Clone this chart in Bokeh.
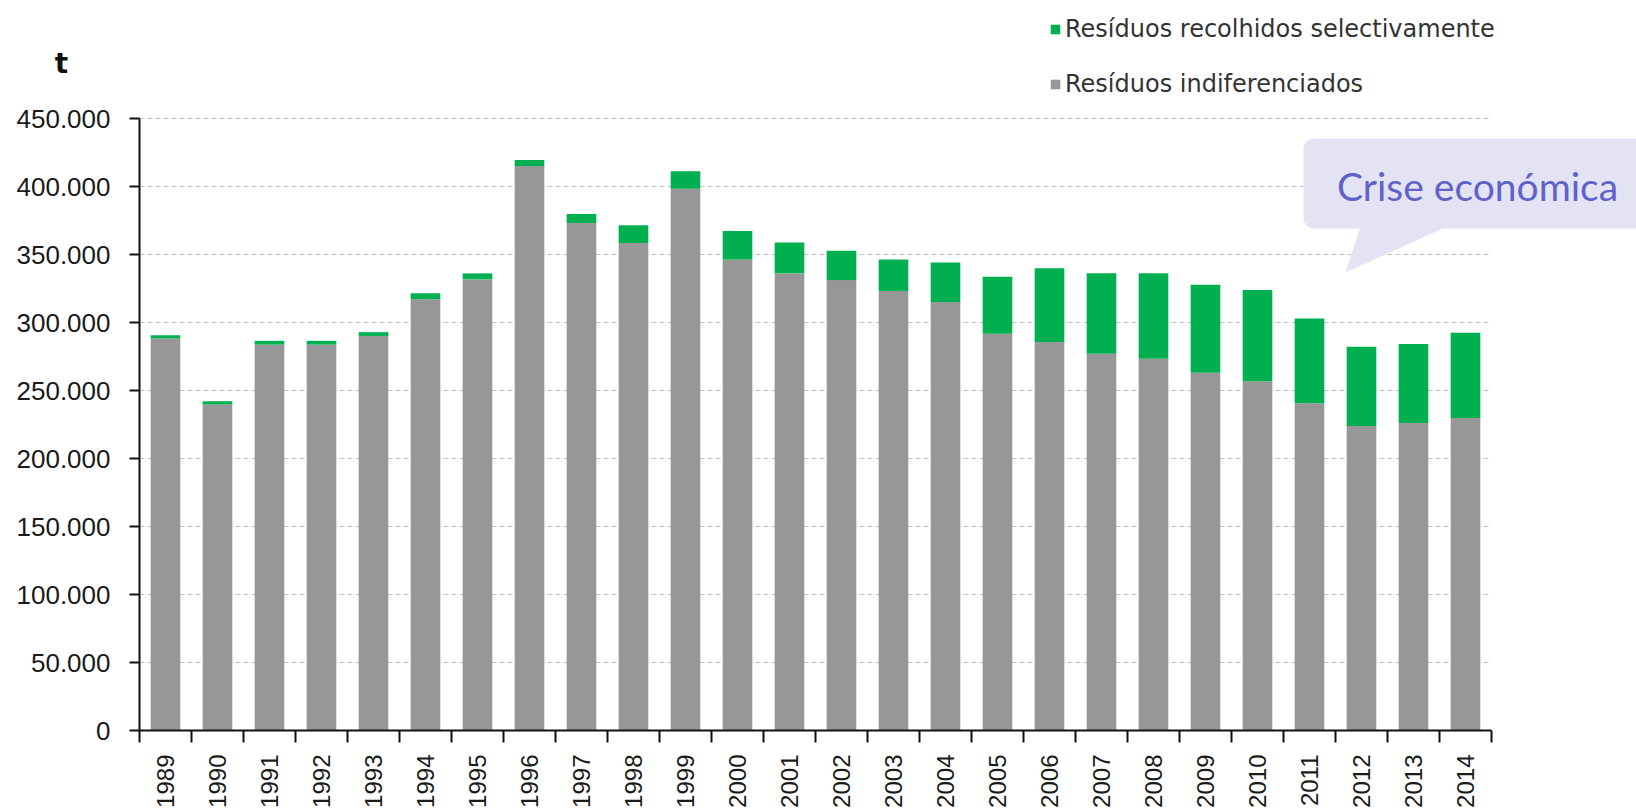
import math
from bokeh.plotting import figure
from bokeh.models import (ColumnDataSource, Range1d, FixedTicker, Legend, LegendItem,
                          Label, BoxAnnotation, PolyAnnotation)
from bokeh.embed import file_html
from bokeh.resources import INLINE

# ---- data (tonnes) ----
years = [1989, 1990, 1991, 1992, 1993, 1994, 1995, 1996, 1997, 1998, 1999, 2000, 2001,
         2002, 2003, 2004, 2005, 2006, 2007, 2008, 2009, 2010, 2011, 2012, 2013, 2014]
indiferenciados = [288200, 239700, 283700, 283700, 290100, 317100, 331700, 415100, 373200,
                   358500, 398300, 346300, 336100, 331200, 323200, 315100, 291700, 285600,
                   277100, 273400, 263000, 256800, 240700, 223900, 226100, 229800]
selectivos = [2400, 2400, 2800, 2800, 2800, 4400, 4400, 4400, 6600, 13000, 12900, 21000,
              22700, 21500, 23100, 29000, 42000, 54200, 59200, 62900, 64800, 67100, 62200,
              58300, 58000, 62600]
y_ticks = [0, 50000, 100000, 150000, 200000, 250000, 300000, 350000, 400000, 450000]
y_tick_labels = ["0", "50.000", "100.000", "150.000", "200.000", "250.000", "300.000",
                 "350.000", "400.000", "450.000"]
serie_sel = "Resíduos recolhidos selectivamente"
serie_ind = "Resíduos indiferenciados"
unit_label = "t"
callout_text = "Crise económica"

GRAY = "#979797"
GREEN = "#00b050"
BOX = "#e3e3f4"

# ---- layout (pixels) ----
W, H = 1636, 808
AX_LEFT, AX_RIGHT = 139, 1491      # x-axis extent on canvas
AX_TOP, AX_BOTTOM = 118, 730       # y-axis extent on canvas (450.000 .. 0)
x_lo, x_hi = years[0] - 0.5, years[-1] + 0.5
ppx = (AX_RIGHT - AX_LEFT) / (x_hi - x_lo)
ppy = (AX_BOTTOM - AX_TOP) / y_ticks[-1]
x_range = Range1d(x_lo - AX_LEFT / ppx, x_lo + (W - AX_LEFT) / ppx)
y_range = Range1d(-(H - AX_BOTTOM) / ppy, AX_BOTTOM / ppy)

src = ColumnDataSource(dict(year=years, ind=indiferenciados, sel=selectivos))

p = figure(width=W, height=H, output_backend="svg", toolbar_location=None,
           x_range=x_range, y_range=y_range,
           min_border_left=0, min_border_right=0, min_border_top=0, min_border_bottom=0)
p.outline_line_color = None
p.background_fill_color = "white"
p.xgrid.visible = False
p.ygrid.visible = False

# dashed horizontal gridlines restricted to the category span
grid_src = ColumnDataSource(dict(y=y_ticks[1:], x0=[x_lo] * (len(y_ticks) - 1),
                                 x1=[x_hi] * (len(y_ticks) - 1)))
p.segment(x0="x0", x1="x1", y0="y", y1="y", source=grid_src, line_color="#c4c4c4",
          line_dash="5 3", line_width=1)

rs = p.vbar_stack(["ind", "sel"], x="year", width=0.57, color=[GRAY, GREEN],
                  line_color=None, source=src)

# y axis
ya = p.yaxis[0]
ya.fixed_location = x_lo
ya.bounds = (0, y_ticks[-1])
ya.ticker = FixedTicker(ticks=y_ticks)
ya.major_label_overrides = {t: l for t, l in zip(y_ticks, y_tick_labels)}
ya.major_label_text_font = "Liberation Sans"
ya.major_label_text_font_size = "26px"
ya.major_label_text_color = "#1a1a1a"
ya.major_tick_out = 10
ya.major_tick_in = 0
ya.minor_tick_line_color = None
ya.major_label_standoff = 19
ya.axis_line_width = 2
ya.major_tick_line_width = 2
ya.axis_line_color = "#111111"
ya.major_tick_line_color = "#111111"

# x axis: labels at centres, ticks at category boundaries
xa = p.xaxis[0]
xa.fixed_location = 0
xa.bounds = (x_lo, x_hi)
xa.ticker = FixedTicker(ticks=years, minor_ticks=[y - 0.5 for y in years] + [x_hi])
xa.major_label_overrides = {y: str(y) for y in years}
xa.major_label_orientation = math.pi / 2
xa.major_label_text_font = "Liberation Sans"
xa.major_label_text_font_size = "24px"
xa.major_label_text_color = "#1a1a1a"
xa.major_tick_out = 0
xa.major_tick_in = 0
xa.major_tick_line_color = None
xa.minor_tick_out = 12
xa.minor_tick_in = 0
xa.minor_tick_line_width = 2
xa.minor_tick_line_color = "#111111"
xa.major_label_standoff = 12
xa.axis_line_width = 2
xa.axis_line_color = "#111111"

# legend (green first)
legend = Legend(items=[LegendItem(label=serie_sel, renderers=[rs[1]]),
                       LegendItem(label=serie_ind, renderers=[rs[0]])],
                location=(1049, 710), orientation="vertical",
                glyph_width=12, glyph_height=12, label_standoff=4, spacing=27,
                padding=0, margin=0, border_line_color=None, background_fill_alpha=0,
                label_text_font="DejaVu Sans", label_text_font_size="24px",
                label_text_color="#333333", label_height=24)
p.add_layout(legend, "center")

# unit label
p.add_layout(Label(x=61, y=H - 63, x_units="screen", y_units="screen", text=unit_label,
                   text_font="DejaVu Sans", text_font_size="28px", text_font_style="bold",
                   text_color="#111111", text_align="center", text_baseline="middle"))

# callout
p.add_layout(BoxAnnotation(left=1303, right=W + 30, top=H - 138, bottom=H - 228,
                           left_units="screen", right_units="screen",
                           top_units="screen", bottom_units="screen",
                           fill_color=BOX, fill_alpha=1, line_color=None,
                           border_radius=10, level="overlay"))
p.add_layout(PolyAnnotation(xs=[1360, 1447, 1345], ys=[H - 226, H - 226, H - 272],
                            xs_units="screen", ys_units="screen",
                            fill_color=BOX, fill_alpha=1, line_color=None, level="overlay"))
p.add_layout(Label(x=1477, y=H - 185, x_units="screen", y_units="screen", text=callout_text,
                   text_font="Lato", text_font_size="39px", text_color="#5f63c9",
                   text_align="center", text_baseline="middle", level="overlay"))

open("out.html", "w").write(file_html(p, INLINE))
